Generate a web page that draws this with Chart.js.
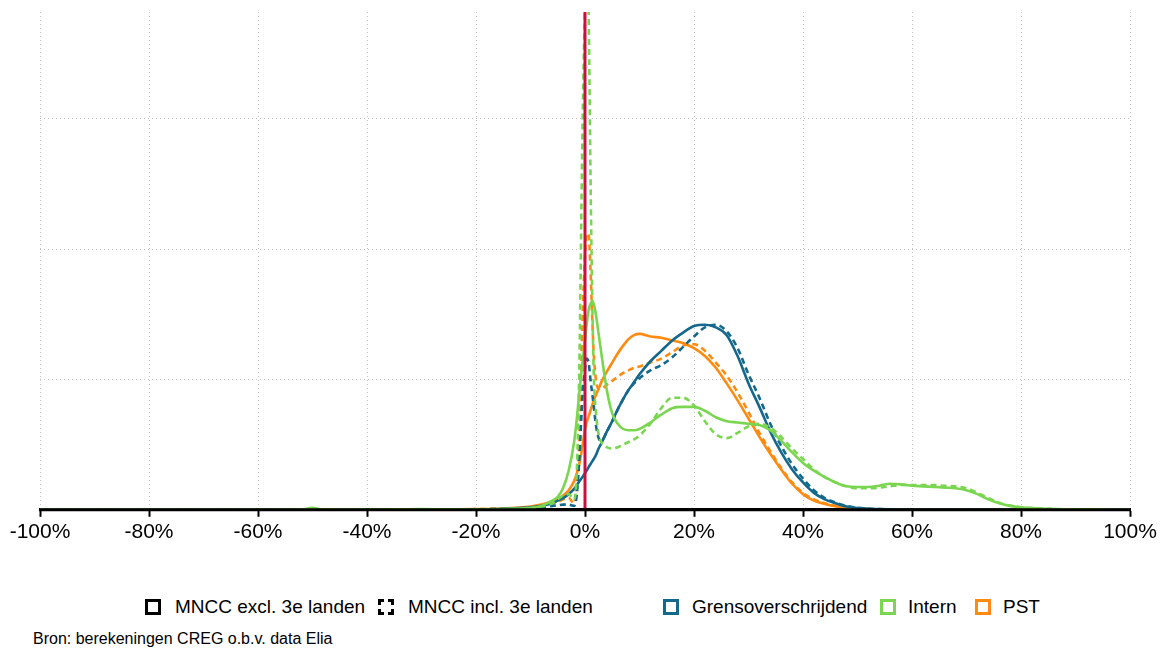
<!DOCTYPE html>
<html>
<head>
<meta charset="utf-8">
<script src="https://cdn.jsdelivr.net/npm/chart.js@4"></script>
<style>
  body { margin: 0; background: #fff; font-family: "Liberation Sans", Arial, sans-serif; }
  #wrap { position: relative; width: 1165px; height: 651px; }
  #chartBox { position: absolute; left: 0; top: 0; width: 1165px; height: 552px; }
  .lg { position: absolute; top: 596px; font-size: 19px; line-height: 22px; color: #000; white-space: nowrap; }
  .lg i { position: absolute; left: 0; top: 3px; width: 10px; height: 10px; border: 3px solid #000; }
  .lg i.dash { border-style: dashed; }
  #source { position: absolute; left: 33px; top: 630px; font-size: 16px; color: #000; }
</style>
</head>
<body>
<div id="wrap">
  <div id="chartBox"><canvas id="chart"></canvas></div>
  <div class="lg" style="left:145px; padding-left:30px"><i></i>MNCC excl. 3e landen</div>
  <div class="lg" style="left:378px; padding-left:30px"><i class="dash"></i>MNCC incl. 3e landen</div>
  <div class="lg" style="left:663px; padding-left:29px"><i style="border-color:#14688b"></i>Grensoverschrijdend</div>
  <div class="lg" style="left:880px; padding-left:28px"><i style="border-color:#7ad650"></i>Intern</div>
  <div class="lg" style="left:975px; padding-left:28px"><i style="border-color:#ff8a10"></i>PST</div>
  <div id="source">Bron: berekeningen CREG o.b.v. data Elia</div>
</div>
<script>
// x positions (in %) shared by all series
const xPct = [
  -100, -60, -52, -50, -48, -40, -35, -30, -25, -20,
  -15, -10, -8, -6, -5, -4, -3, -2, -1.5, -1,
  -0.5, 0, 0.3, 0.7, 1, 1.3, 1.6, 2, 2.5, 3,
  4, 5, 6, 7, 8, 9, 10, 12, 14, 16,
  18, 20, 22, 24, 26, 28, 30, 32, 34, 36,
  38, 40, 42, 44, 46, 48, 50, 52, 54, 56,
  58, 60, 62, 64, 66, 68, 70, 72, 74, 76,
  78, 80, 85, 90, 95, 100
];

// Grensoverschrijdend
const grensExcl = [
  0, 0, 0, 0, 0, 0.002, 0.002, 0.003, 0.003, 0.004,
  0.008, 0.02, 0.03, 0.05, 0.07, 0.09, 0.12, 0.16, 0.19, 0.22,
  0.25, 0.28, 0.30, 0.33, 0.35, 0.37, 0.39, 0.42, 0.47, 0.51,
  0.60, 0.68, 0.77, 0.85, 0.92, 0.98, 1.04, 1.14, 1.22, 1.30,
  1.36, 1.41, 1.42, 1.40, 1.34, 1.18, 0.97, 0.79, 0.60, 0.44,
  0.31, 0.21, 0.13, 0.08, 0.05, 0.025, 0.013, 0.008, 0.005, 0.003,
  0.002, 0.001, 0, 0, 0, 0, 0, 0, 0, 0,
  0, 0, 0, 0, 0, 0
];
const grensIncl = [
  0, 0, 0, 0, 0, 0.002, 0.002, 0.003, 0.003, 0.004,
  0.007, 0.015, 0.02, 0.03, 0.035, 0.04, 0.04, 0.03, 0.12, 0.42,
  0.85, 1.08, 1.16, 1.12, 1.00, 0.90, 0.80, 0.65, 0.55, 0.53,
  0.60, 0.68, 0.77, 0.85, 0.92, 0.97, 1.01, 1.07, 1.11, 1.17,
  1.25, 1.33, 1.40, 1.42, 1.37, 1.24, 1.04, 0.86, 0.66, 0.49,
  0.35, 0.24, 0.15, 0.09, 0.055, 0.03, 0.016, 0.009, 0.005, 0.003,
  0.002, 0.001, 0, 0, 0, 0, 0, 0, 0, 0,
  0, 0, 0, 0, 0, 0
];

// PST
const pstExcl = [
  0, 0, 0, 0, 0, 0.002, 0.004, 0.003, 0.003, 0.005,
  0.01, 0.025, 0.04, 0.065, 0.085, 0.11, 0.15, 0.22, 0.28, 0.36,
  0.48, 0.62, 0.67, 0.72, 0.76, 0.80, 0.84, 0.88, 0.93, 0.98,
  1.06, 1.13, 1.20, 1.26, 1.31, 1.34, 1.35, 1.33, 1.32, 1.30,
  1.28, 1.24, 1.18, 1.09, 0.97, 0.84, 0.70, 0.56, 0.43, 0.31,
  0.20, 0.12, 0.07, 0.045, 0.028, 0.017, 0.01, 0.006, 0.004, 0.002,
  0.001, 0, 0, 0, 0, 0, 0, 0, 0, 0,
  0, 0, 0, 0, 0, 0
];
const pstIncl = [
  0, 0, 0, 0, 0, 0.002, 0.004, 0.003, 0.003, 0.005,
  0.01, 0.02, 0.03, 0.05, 0.06, 0.08, 0.09, 0.05, 0.25, 0.60,
  1.40, 1.95, 2.12, 2.10, 1.85, 1.50, 1.20, 1.00, 0.93, 0.93,
  0.96, 0.99, 1.02, 1.05, 1.07, 1.09, 1.10, 1.13, 1.16, 1.21,
  1.26, 1.27, 1.22, 1.13, 1.03, 0.90, 0.75, 0.59, 0.45, 0.32,
  0.21, 0.13, 0.08, 0.05, 0.03, 0.018, 0.01, 0.006, 0.004, 0.002,
  0.001, 0, 0, 0, 0, 0, 0, 0, 0, 0,
  0, 0, 0, 0, 0, 0
];

// Intern
const internExcl = [
  0, 0, 0.001, 0.015, 0.001, 0.002, 0.003, 0.005, 0.003, 0.003,
  0.006, 0.015, 0.03, 0.07, 0.10, 0.17, 0.30, 0.52, 0.70, 0.92,
  1.12, 1.30, 1.42, 1.54, 1.58, 1.60, 1.58, 1.50, 1.35, 1.20,
  0.92, 0.74, 0.66, 0.62, 0.61, 0.61, 0.62, 0.67, 0.73, 0.78,
  0.79, 0.79, 0.76, 0.71, 0.68, 0.67, 0.66, 0.65, 0.61, 0.53,
  0.44, 0.36, 0.30, 0.25, 0.21, 0.18, 0.175, 0.175, 0.185, 0.20,
  0.195, 0.185, 0.18, 0.175, 0.17, 0.165, 0.15, 0.12, 0.08, 0.05,
  0.03, 0.02, 0.008, 0.003, 0.001, 0
];
const internIncl = [
  0, 0, 0.001, 0.012, 0.001, 0.002, 0.003, 0.004, 0.003, 0.003,
  0.005, 0.012, 0.025, 0.05, 0.08, 0.11, 0.12, 0.08, 0.30, 1.20,
  2.80, 3.90, 4.30, 3.70, 2.60, 1.70, 1.05, 0.75, 0.58, 0.52,
  0.48, 0.47, 0.48, 0.50, 0.52, 0.54, 0.57, 0.66, 0.78, 0.86,
  0.86, 0.80, 0.68, 0.58, 0.55, 0.59, 0.64, 0.66, 0.63, 0.56,
  0.47, 0.39, 0.31, 0.25, 0.21, 0.18, 0.165, 0.165, 0.17, 0.18,
  0.19, 0.19, 0.19, 0.19, 0.185, 0.18, 0.165, 0.13, 0.09, 0.055,
  0.032, 0.02, 0.008, 0.003, 0.001, 0
];

const xTicks = [-100, -80, -60, -40, -20, 0, 20, 40, 60, 80, 100];
const yMax = 3.82;
const refLine = 0; // red line at 0%

const colTeal = '#14688b';
const colGreen = '#7ad650';
const colOrange = '#ff8a10';

function toPoints(ys) {
  return xPct.map((x, i) => ({ x: x, y: ys[i] }));
}

function series(label, ys, color, dashed) {
  return {
    label: label,
    data: toPoints(ys),
    borderColor: color,
    borderWidth: 2.6,
    borderDash: dashed ? [6, 4] : [],
    cubicInterpolationMode: 'monotone',
    pointRadius: 0,
    fill: false
  };
}

// red vertical line at 0% and the black x axis on top of the curves
const overlayPlugin = {
  id: 'overlay',
  afterDatasetsDraw(chart) {
    const { ctx, chartArea, scales } = chart;
    const px = scales.x.getPixelForValue(refLine);
    const py = scales.y.getPixelForValue(0);
    ctx.save();
    ctx.strokeStyle = '#c8103e';
    ctx.lineWidth = 3;
    ctx.beginPath();
    ctx.moveTo(px, chartArea.top);
    ctx.lineTo(px, py);
    ctx.stroke();
    ctx.strokeStyle = '#000';
    ctx.lineWidth = 3;
    ctx.beginPath();
    ctx.moveTo(chartArea.left - 1, py);
    ctx.lineTo(chartArea.right + 1, py);
    ctx.stroke();
    ctx.restore();
  }
};

const ctx = document.getElementById('chart').getContext('2d');
const chart = new Chart(ctx, {
  type: 'line',
  data: {
    datasets: [
      series('Intern excl.', internExcl, colGreen, false),
      series('Intern incl.', internIncl, colGreen, true),
      series('Grensoverschrijdend excl.', grensExcl, colTeal, false),
      series('Grensoverschrijdend incl.', grensIncl, colTeal, true),
      series('PST excl.', pstExcl, colOrange, false),
      series('PST incl.', pstIncl, colOrange, true)
    ]
  },
  options: {
    responsive: true,
    maintainAspectRatio: false,
    animation: false,
    layout: { padding: { left: 40, right: 35, top: 12, bottom: 4 } },
    plugins: { legend: { display: false }, tooltip: { enabled: false } },
    scales: {
      x: {
        type: 'linear',
        min: -100,
        max: 100,
        afterBuildTicks: axis => { axis.ticks = xTicks.map(v => ({ value: v })); },
        ticks: {
          callback: v => v + '%',
          color: '#000',
          font: { size: 21, family: '"Liberation Sans", Arial, sans-serif' },
          padding: 3,
          maxRotation: 0,
          autoSkip: false
        },
        grid: { color: '#c4c4c4', lineWidth: 1, tickLength: 7, tickColor: '#000', tickWidth: 2 },
        border: { display: true, color: '#000', width: 3, dash: [1, 3] }
      },
      y: {
        min: 0,
        max: yMax,
        ticks: { display: false, stepSize: 1 },
        grid: {
          drawTicks: false,
          color: c => (c.tick && c.tick.value > 0 && Number.isInteger(c.tick.value)) ? '#c4c4c4' : 'rgba(0,0,0,0)'
        },
        border: { display: false, dash: [1, 3] }
      }
    }
  },
  plugins: [overlayPlugin]
});
</script>
</body>
</html>
